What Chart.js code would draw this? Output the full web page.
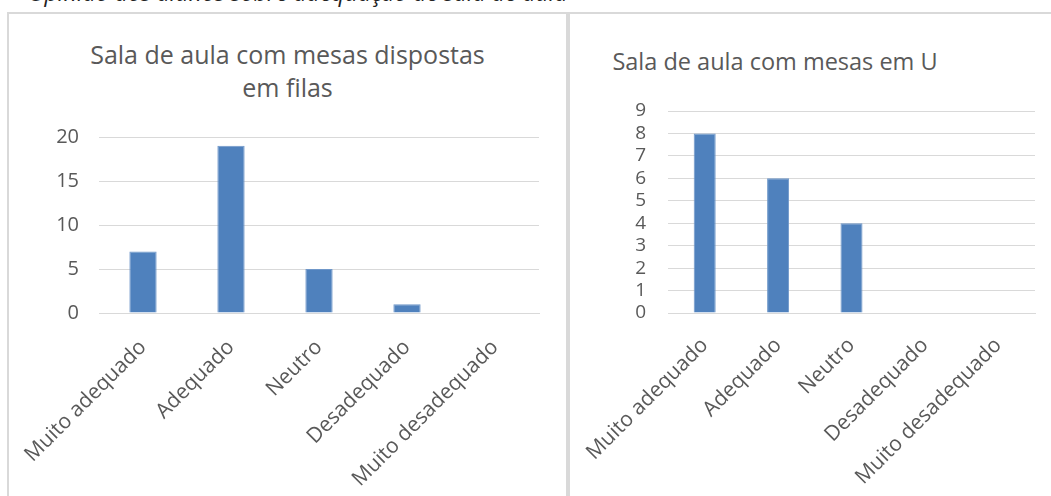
<!DOCTYPE html>
<html>
<head>
<meta charset="utf-8">
<script src="https://cdn.jsdelivr.net/npm/chart.js@4.4.1/dist/chart.umd.min.js"></script>
<style>
  html, body { margin: 0; padding: 0; background: #fff; overflow: hidden; }
  body { width: 1051px; height: 496px; position: relative; font-family: "Open Sans", sans-serif; }
  .caption { position: absolute; left: 28px; top: -23px; font-style: italic; font-size: 23px; line-height: 30px; color: #222; white-space: nowrap; }
  .box { position: absolute; top: 12px; height: 520px; border: 2px solid #d9d9d9; box-sizing: border-box; }
  .box canvas { position: absolute; left: 0; top: 0; }
  .title { position: absolute; color: #595959; text-align: center; white-space: nowrap; }
</style>
</head>
<body>
<div class="caption">Opinião dos alunos sobre adequação de sala de aula</div>

<div class="box" style="left:7px; width:561px;">
  <div class="title" style="left:0; width:557px; top:24px; font-size:25px; line-height:33px;">Sala de aula com mesas dispostas<br>em filas</div>
  <canvas id="chartA" width="557" height="484"></canvas>
</div>

<div class="box" style="left:568px; width:600px;">
  <div class="title" style="left:40px; width:330px; top:32px; font-size:23.5px; line-height:31px;">Sala de aula com mesas em U</div>
  <canvas id="chartB" width="483" height="484"></canvas>
</div>

<script>
const categories = ['Muito adequado', 'Adequado', 'Neutro', 'Desadequado', 'Muito desadequado'];
const filasValues = [7, 19, 5, 1, 0];
const emUValues = [8, 6, 4, 0, 0];
const filasTicks = [0, 5, 10, 15, 20];
const emUTicks = [0, 1, 2, 3, 4, 5, 6, 7, 8, 9];

const barColor = '#4f81bd';
const textColor = '#595959';
const gridColor = '#d9d9d9';

function makeChart(id, values, ticks, opts) {
  const ctx = document.getElementById(id).getContext('2d');
  return new Chart(ctx, {
    type: 'bar',
    data: {
      labels: categories,
      datasets: [{
        data: values,
        backgroundColor: barColor,
        borderColor: '#6f97c9',
        borderWidth: 1,
        barPercentage: opts.barPct,
        categoryPercentage: 1
      }]
    },
    options: {
      responsive: false,
      animation: false,
      layout: { padding: { left: 0, right: opts.padRight, top: opts.padTop, bottom: 0 } },
      plugins: { legend: { display: false }, tooltip: { enabled: false } },
      scales: {
        x: {
          grid: { display: false, drawTicks: false },
          border: { color: gridColor, width: 1 },
          ticks: {
            color: textColor,
            font: { family: 'Open Sans', size: 21 },
            minRotation: 45,
            maxRotation: 45,
            autoSkip: false,
            padding: opts.xPad
          },
          afterFit(scale) {
            scale.height = opts.xHeight;
            // rotated labels may hang past the y axis; keep the plot where it is
            scale.paddingLeft = 0;
            scale.paddingRight = 0;
          }
        },
        y: {
          min: 0,
          max: ticks[ticks.length - 1],
          afterBuildTicks(scale) { scale.ticks = ticks.map(v => ({ value: v })); },
          grid: { color: gridColor, drawTicks: false },
          border: { display: false },
          ticks: {
            color: textColor,
            font: { family: 'Open Sans', size: opts.tickSize },
            padding: opts.tickPad,
            autoSkip: false
          },
          afterFit(scale) { scale.width = opts.yWidth; }
        }
      }
    }
  });
}

makeChart('chartA', filasValues, filasTicks, {
  barPct: 0.31, padRight: 27, padTop: 123, xHeight: 185, yWidth: 90, tickSize: 20, tickPad: 20, xPad: 22
});
makeChart('chartB', emUValues, emUTicks, {
  barPct: 0.30, padRight: 18, padTop: 97, xHeight: 185, yWidth: 98, tickSize: 19, tickPad: 22, xPad: 20
});
</script>
</body>
</html>
